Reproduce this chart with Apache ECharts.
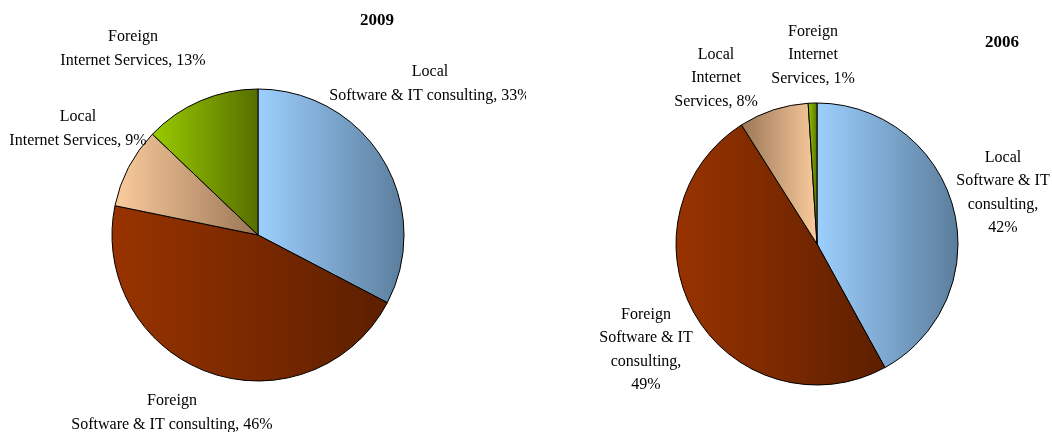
<!DOCTYPE html>
<html>
<head>
<meta charset="utf-8">
<script src="https://cdn.jsdelivr.net/npm/echarts@6/dist/echarts.min.js"></script>
<style>
  html, body { margin: 0; padding: 0; background: #fff; }
  #wrap { position: relative; width: 1052px; height: 432px; }
  #c1 { position: absolute; left: 0; top: 0; width: 526px; height: 432px; }
  #c2 { position: absolute; left: 526px; top: 0; width: 526px; height: 432px; }
</style>
</head>
<body>
<div id="wrap"><div id="c1"></div><div id="c2"></div></div>
<script>
// ---- data ----
const categories = ['Local Software & IT consulting', 'Foreign Software & IT consulting', 'Local Internet Services', 'Foreign Internet Services'];
const values2009 = [33, 46, 9, 13];
const values2006 = [42, 49, 8, 1];
const labels2009 = ['Local\nSoftware & IT consulting, 33%', 'Foreign\nSoftware & IT consulting, 46%', 'Local\nInternet Services, 9%', 'Foreign\nInternet Services, 13%'];
const labels2006 = ['Local\nSoftware & IT\nconsulting,\n42%', 'Foreign\nSoftware & IT\nconsulting,\n49%', 'Local\nInternet\nServices, 8%', 'Foreign\nInternet\nServices, 1%'];

// ---- styles / layout ----
const FONT = '"Liberation Serif", "DejaVu Serif", serif';
const gradStops = [
  ['#9dd0ff', '#5b7d9c'],
  ['#993300', '#5c1f00'],
  ['#fbcc9e', '#9a7656'],
  ['#9acc00', '#566e00']
];
function grad(i, reverse) {
  const c = gradStops[i];
  const a = reverse ? c[1] : c[0], b = reverse ? c[0] : c[1];
  return new echarts.graphic.LinearGradient(0, 0, 1, 0, [{offset: 0, color: a}, {offset: 1, color: b}]);
}

function build(el, title, titlePos, center, radius, values, labels, labelPos, reversePeach) {
  const chart = echarts.init(el, null, {renderer: 'canvas'});
  chart.setOption({
    animation: false,
    backgroundColor: '#fff',
    title: {
      text: title, left: titlePos[0], top: titlePos[1], textAlign: 'center',
      textStyle: {fontFamily: FONT, fontSize: 17, fontWeight: 'bold', color: '#000'}
    },
    series: [{
      type: 'pie',
      center: center,
      radius: radius,
      startAngle: 90,
      clockwise: true,
      avoidLabelOverlap: false,
      data: categories.map((name, i) => ({
        name: name,
        value: values[i],
        itemStyle: {color: grad(i, reversePeach && i === 2)}
      })),
      itemStyle: {borderColor: '#000', borderWidth: 1},
      emphasis: {disabled: true},
      label: {
        show: true,
        position: 'outside',
        formatter: p => labels[p.dataIndex],
        fontFamily: FONT, fontSize: 16, lineHeight: 23.5, color: '#000', align: 'center'
      },
      labelLine: {show: false},
      labelLayout: p => ({
        x: labelPos[p.dataIndex][0],
        y: labelPos[p.dataIndex][1],
        align: 'center',
        verticalAlign: 'middle'
      })
    }]
  });
}

build(document.getElementById('c1'), '2009', [372, 7], [258, 235], 146,
  values2009, labels2009, [[430, 84], [172, 413], [78, 129], [133, 49]], false);
build(document.getElementById('c2'), '2006', [471, 29], [291, 244], 141,
  values2006, labels2006, [[477, 193], [120, 350], [190, 78], [287, 55]], true);
</script>
</body>
</html>
